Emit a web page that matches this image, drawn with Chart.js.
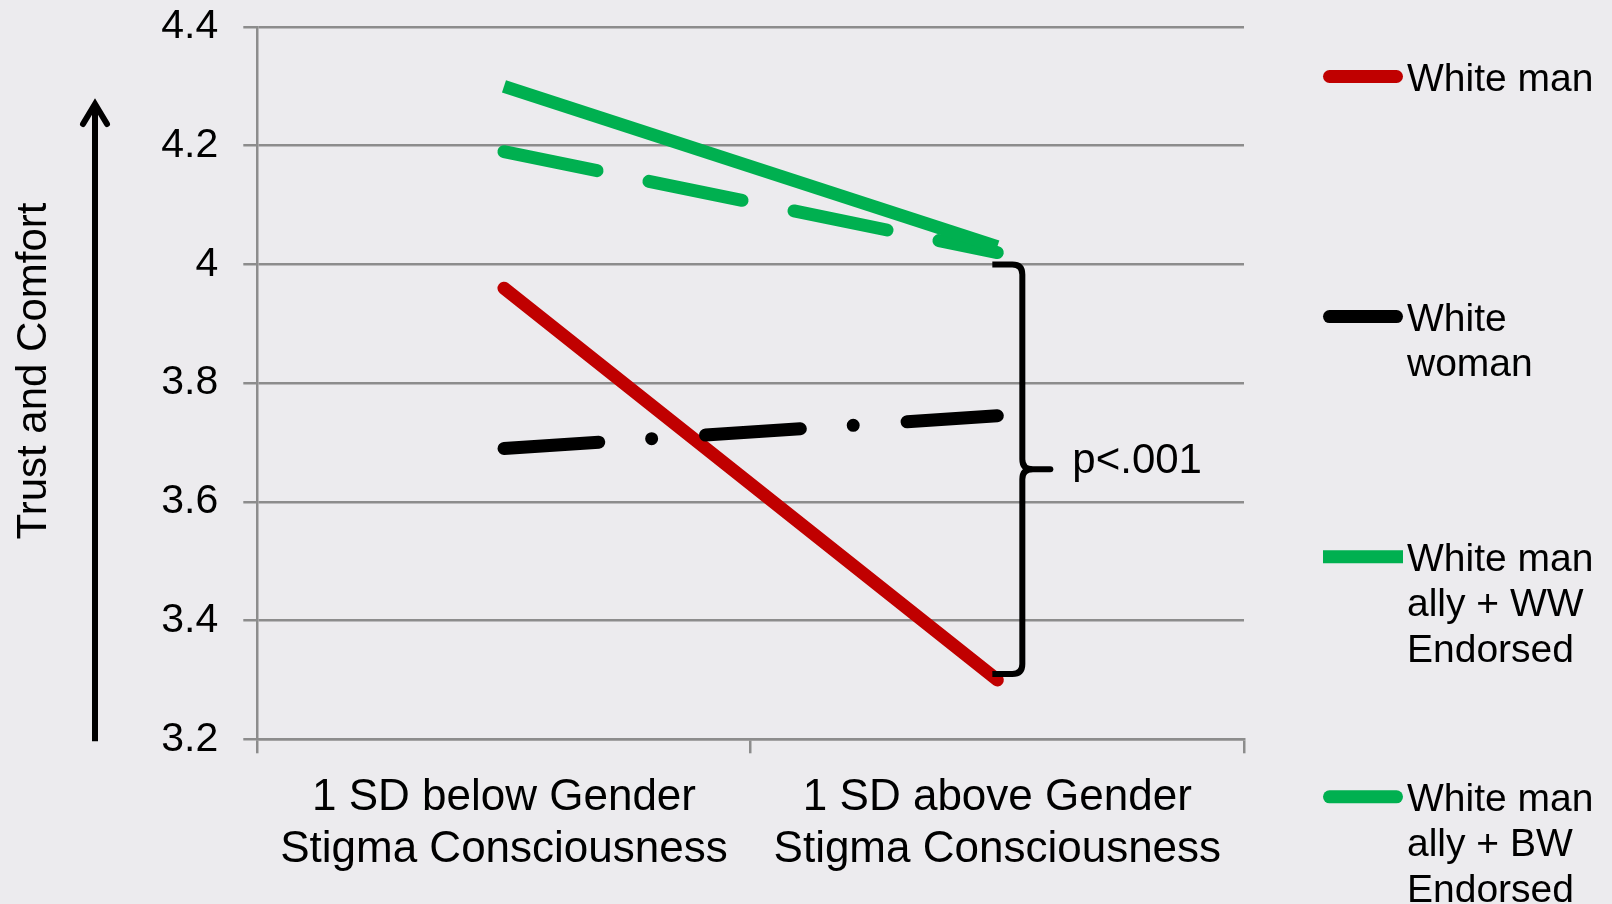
<!DOCTYPE html>
<html>
<head>
<meta charset="utf-8">
<title>Trust and Comfort by Gender Stigma Consciousness</title>
<script src="https://cdn.jsdelivr.net/npm/chart.js@4.4.1/dist/chart.umd.min.js"></script>
<style>
  html, body { margin: 0; padding: 0; background: #ecebee; }
  canvas { display: block; }
</style>
</head>
<body>
<canvas id="chart" width="1612" height="904"></canvas>
<script>
// ---- data ----
const categories = [
  ['1 SD below Gender', 'Stigma Consciousness'],
  ['1 SD above Gender', 'Stigma Consciousness']
];
const whiteMan   = [3.96, 3.30];
const whiteWoman = [3.69, 3.745];
const allyWW     = [4.30, 4.03];
const allyBW     = [4.19, 4.02];
const seriesNames = [
  ['White man'],
  ['White', 'woman'],
  ['White man', 'ally + WW', 'Endorsed'],
  ['White man', 'ally + BW', 'Endorsed']
];
const yTickLabels = ['3.2', '3.4', '3.6', '3.8', '4', '4.2', '4.4'];
const yTitle = 'Trust and Comfort';
const bracketSpan = [4.0, 3.31];
const bracketLabel = 'p<.001';

// ---- styling ----
const FONT = '"Liberation Sans", Arial, sans-serif';
const BG = '#ecebee';
const GRID = '#8c8c8c';
const RED = '#c00000';
const GREEN = '#00b050';
const BLACK = '#000000';

const LEGEND = { x0: 1323, x1: 1403, textX: 1407, top: 76.5, step: 240.1, line: 45.5, size: 39 };

const background = {
  id: 'background',
  beforeDraw(chart) {
    const { ctx, width, height } = chart;
    ctx.save();
    ctx.fillStyle = BG;
    ctx.fillRect(0, 0, width, height);
    ctx.restore();
  }
};

// rotated value-axis caption with an upward arrow beside it
const axisCaption = {
  id: 'axisCaption',
  afterDraw(chart) {
    const { ctx, chartArea } = chart;
    ctx.save();
    ctx.fillStyle = '#000';
    ctx.font = '42px ' + FONT;
    ctx.textAlign = 'center';
    ctx.textBaseline = 'middle';
    ctx.translate(34, 371);
    ctx.rotate(-Math.PI / 2);
    ctx.fillText(yTitle, 0, 0);
    ctx.restore();

    const x = 95, tip = 102;
    ctx.save();
    ctx.strokeStyle = '#000';
    ctx.lineWidth = 6;
    ctx.lineCap = 'butt';
    ctx.beginPath();
    ctx.moveTo(x, chartArea.bottom + 2);
    ctx.lineTo(x, tip + 4);
    ctx.stroke();
    ctx.lineCap = 'round';
    ctx.lineJoin = 'miter';
    ctx.beginPath();
    ctx.moveTo(x - 12, tip + 22);
    ctx.lineTo(x, tip + 2);
    ctx.lineTo(x + 12, tip + 22);
    ctx.stroke();
    ctx.restore();
  }
};

// curly brace comparing the two groups at the high end
const bracket = {
  id: 'bracket',
  afterDatasetsDraw(chart) {
    const { ctx, scales } = chart;
    const xs = scales.x.getPixelForValue(1);
    const yTop = scales.y.getPixelForValue(bracketSpan[0]);
    const yBot = scales.y.getPixelForValue(bracketSpan[1]);
    const yMid = (yTop + yBot) / 2;
    const xa = xs - 5, xv = xs + 25, xt = xs + 56, r = 10;
    ctx.save();
    ctx.strokeStyle = '#000';
    ctx.lineWidth = 6;
    ctx.lineCap = 'butt';
    ctx.beginPath();
    ctx.moveTo(xa, yTop);
    ctx.lineTo(xv - r, yTop);
    ctx.quadraticCurveTo(xv, yTop, xv, yTop + r);
    ctx.lineTo(xv, yMid - r);
    ctx.quadraticCurveTo(xv, yMid, xv + r, yMid);
    ctx.moveTo(xv + r, yMid);
    ctx.quadraticCurveTo(xv, yMid, xv, yMid + r);
    ctx.lineTo(xv, yBot - r);
    ctx.quadraticCurveTo(xv, yBot, xv - r, yBot);
    ctx.lineTo(xa, yBot);
    ctx.stroke();
    ctx.lineCap = 'round';
    ctx.beginPath();
    ctx.moveTo(xv + r, yMid);
    ctx.lineTo(xt - 3, yMid);
    ctx.stroke();
    ctx.fillStyle = '#000';
    ctx.font = '42px ' + FONT;
    ctx.textBaseline = 'alphabetic';
    ctx.textAlign = 'left';
    ctx.fillText(bracketLabel, xs + 75, yMid + 4);
    ctx.restore();
  }
};

// legend at the right with wrapped names
const sideLegend = {
  id: 'sideLegend',
  afterDraw(chart) {
    const { ctx } = chart;
    ctx.save();
    ctx.font = LEGEND.size + 'px ' + FONT;
    ctx.textAlign = 'left';
    ctx.textBaseline = 'alphabetic';
    chart.data.datasets.forEach((ds, i) => {
      const y = LEGEND.top + i * LEGEND.step;
      const cap = ds.borderCapStyle || 'butt';
      const inset = cap === 'butt' ? 0 : 6.5;
      ctx.strokeStyle = ds.borderColor;
      ctx.lineWidth = 13;
      ctx.lineCap = cap;
      ctx.setLineDash([]);
      ctx.beginPath();
      ctx.moveTo(LEGEND.x0 + inset, y);
      ctx.lineTo(LEGEND.x1 - inset, y);
      ctx.stroke();
      ctx.fillStyle = '#000';
      seriesNames[i].forEach((t, j) => {
        ctx.fillText(t, LEGEND.textX, y + j * LEGEND.line + 14);
      });
    });
    ctx.restore();
  }
};

new Chart(document.getElementById('chart'), {
  type: 'line',
  data: {
    labels: categories,
    datasets: [
      { label: seriesNames[0].join(' '), data: whiteMan, borderColor: RED,
        borderWidth: 13, borderCapStyle: 'round', order: 2 },
      { label: seriesNames[1].join(' '), data: whiteWoman, borderColor: BLACK,
        borderWidth: 13, borderCapStyle: 'round', borderDash: [95, 53, 0, 54], order: 0 },
      { label: seriesNames[2].join(' '), data: allyWW, borderColor: GREEN,
        borderWidth: 13, borderCapStyle: 'butt', order: 1 },
      { label: seriesNames[3].join(' '), data: allyBW, borderColor: GREEN,
        borderWidth: 13, borderCapStyle: 'round', borderDash: [95, 53], order: 3 }
    ]
  },
  options: {
    responsive: false,
    animation: false,
    devicePixelRatio: 1,
    layout: { padding: { top: 27, right: 368, bottom: 0, left: 0 } },
    elements: {
      point: { radius: 0, hoverRadius: 0 },
      line: { tension: 0, fill: false }
    },
    plugins: {
      legend: { display: false },
      tooltip: { enabled: false }
    },
    scales: {
      x: {
        type: 'category',
        offset: true,
        afterFit(scale) { scale.height = 164.7; },
        grid: { display: true, drawOnChartArea: false, drawTicks: true, tickLength: 14,
                color: GRID, lineWidth: 2.5, offset: true },
        border: { display: true, color: GRID, width: 2.5 },
        ticks: { color: '#000', font: { family: FONT, size: 44, lineHeight: 1.175 },
                 padding: 19, maxRotation: 0, minRotation: 0, autoSkip: false }
      },
      y: {
        min: 3.2,
        max: 4.4,
        afterFit(scale) {
          scale.width = 257.3;
          scale.paddingTop = 0;
          scale.paddingBottom = 0;
        },
        grid: { color: GRID, lineWidth: 2.5, drawTicks: true, tickLength: 14 },
        border: { display: true, color: GRID, width: 2.5 },
        ticks: { stepSize: 0.2, color: '#000', font: { family: FONT, size: 41 }, padding: 25,
                 callback: (v, i) => yTickLabels[i] }
      }
    }
  },
  plugins: [background, bracket, axisCaption, sideLegend]
});
</script>
</body>
</html>
